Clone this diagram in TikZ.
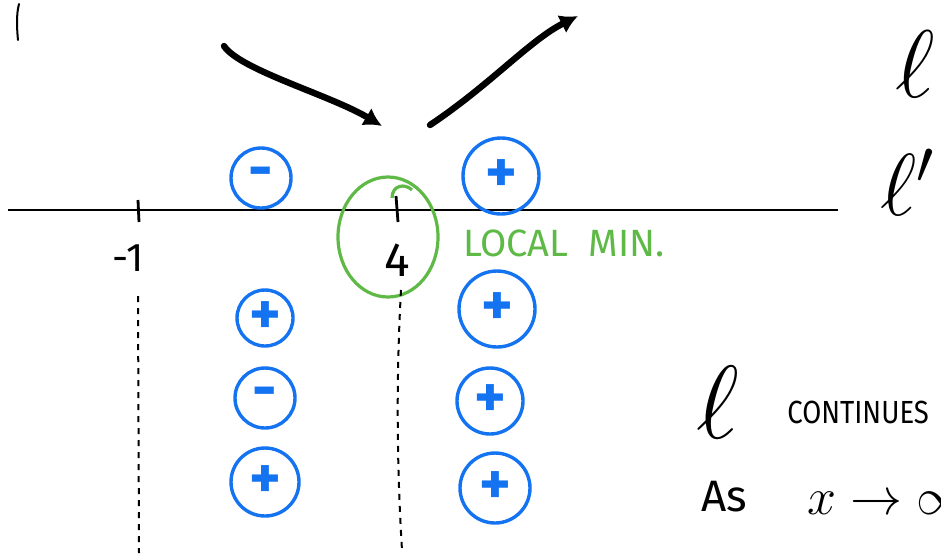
\RequirePackage{fix-cm}
\documentclass[tikz,border=0pt]{standalone}
\usepackage{fontspec}
\setsansfont{Fira Sans}
\usetikzlibrary{arrows.meta,shapes.geometric}
\definecolor{signblue}{RGB}{20,115,240}
\definecolor{mingreen}{RGB}{95,185,70}
\tikzset{
  sign/.style={circle, draw=signblue, line width=1.7pt, text=signblue, inner sep=0pt, font=\sffamily\fontsize{30}{30}\selectfont\bfseries},
  bigarrow/.style={line width=3.2pt, line cap=round, -{Latex[length=9pt,width=10pt]}},
  dashline/.style={line width=1pt, dash pattern=on 3pt off 3pt},
  axislabel/.style={font=\sffamily\fontsize{20}{20}\selectfont},
  hand/.style={font=\sffamily\fontsize{22}{22}\selectfont},
  ellnode/.style={inner sep=0pt}
}
\begin{document}
\begin{tikzpicture}[x=0.5pt,y=-0.5pt]
\useasboundingbox (0,0) rectangle (941,553);
\clip (0,0) rectangle (941,553);
% top-left stroke
\draw[line width=1pt, line cap=round] (19,4) .. controls (16,15) and (17,30) .. (18,40);
% axis
\coordinate (axl) at (8,210);
\coordinate (axr) at (838,210);
\draw[line width=1.2pt] (axl) -- (axr);
% ticks
\draw[line width=1.4pt] (138,200) -- (139,222);
\draw[line width=1.4pt] (396,196) -- (398,222);
\node[axislabel] (m1) at (128,258) {-1};
\node[axislabel, font=\sffamily\fontsize{24}{24}\selectfont] (four) at (397,260) {4};
% green circle
\node[ellipse, draw=mingreen, line width=1.6pt, minimum width=50pt, minimum height=60pt] (gmin) at (388,237) {};
\draw[mingreen, line width=1.6pt] (392,198) .. controls (392,185) and (405,183) .. (412,190);
\node[font=\sffamily\fontsize{19}{19}\selectfont, text=mingreen, anchor=west] (lmin) at (456,243) {LOCAL\ \ MIN.};
% dashed verticals
\coordinate (d1a) at (138,296);
\coordinate (d1b) at (139,553);
\draw[dashline] (d1a) -- (d1b);
\coordinate (d2a) at (401,290);
\coordinate (d2b) at (402,550);
\draw[dashline] (d2a) .. controls (396,380) and (397,470) .. (d2b);
% blue sign circles
\node[sign, minimum size=30pt] (s1) at (261,178) {-};
\node[sign, minimum size=38pt] (s2) at (501,176) {+};
\node[sign, minimum size=28pt] (s3) at (265,318) {+};
\node[sign, minimum size=38pt] (s4) at (497,309) {+};
\node[sign, minimum size=30pt] (s5) at (265,398) {-};
\node[sign, minimum size=33pt] (s6) at (490,401) {+};
\node[sign, minimum size=34pt] (s7) at (265,482) {+};
\node[sign, minimum size=35pt] (s8) at (495,488) {+};
% arrows
\coordinate (a1s) at (224,46);
\coordinate (a1e) at (382,126);
\draw[bigarrow] (a1s) .. controls (240,70) and (330,95) .. (a1e);
\coordinate (a2s) at (430,125);
\coordinate (a2e) at (578,16);
\draw[bigarrow] (a2s) .. controls (490,85) and (530,40) .. (a2e);
% right side
\node[ellnode, font=\fontsize{48}{48}\selectfont] (ell1) at (915,64) {$\ell$};
\node[ellnode, font=\fontsize{44}{44}\selectfont, anchor=west] (ell2) at (880,182) {$\ell'$};
\node[ellnode, font=\fontsize{52}{52}\selectfont] (ell3) at (718,402) {$\ell$};
\node[font=\sffamily\fontsize{16}{16}\selectfont, anchor=west, inner sep=0pt] (cont) at (787,412) {\scalebox{0.86}[1]{CONTINUES}};
\node[hand, anchor=west] (as) at (694,497) {As};
\node[font=\fontsize{26}{26}\selectfont, anchor=west] (xinf) at (800,503) {$x \to \infty$};
\end{tikzpicture}
\end{document}
